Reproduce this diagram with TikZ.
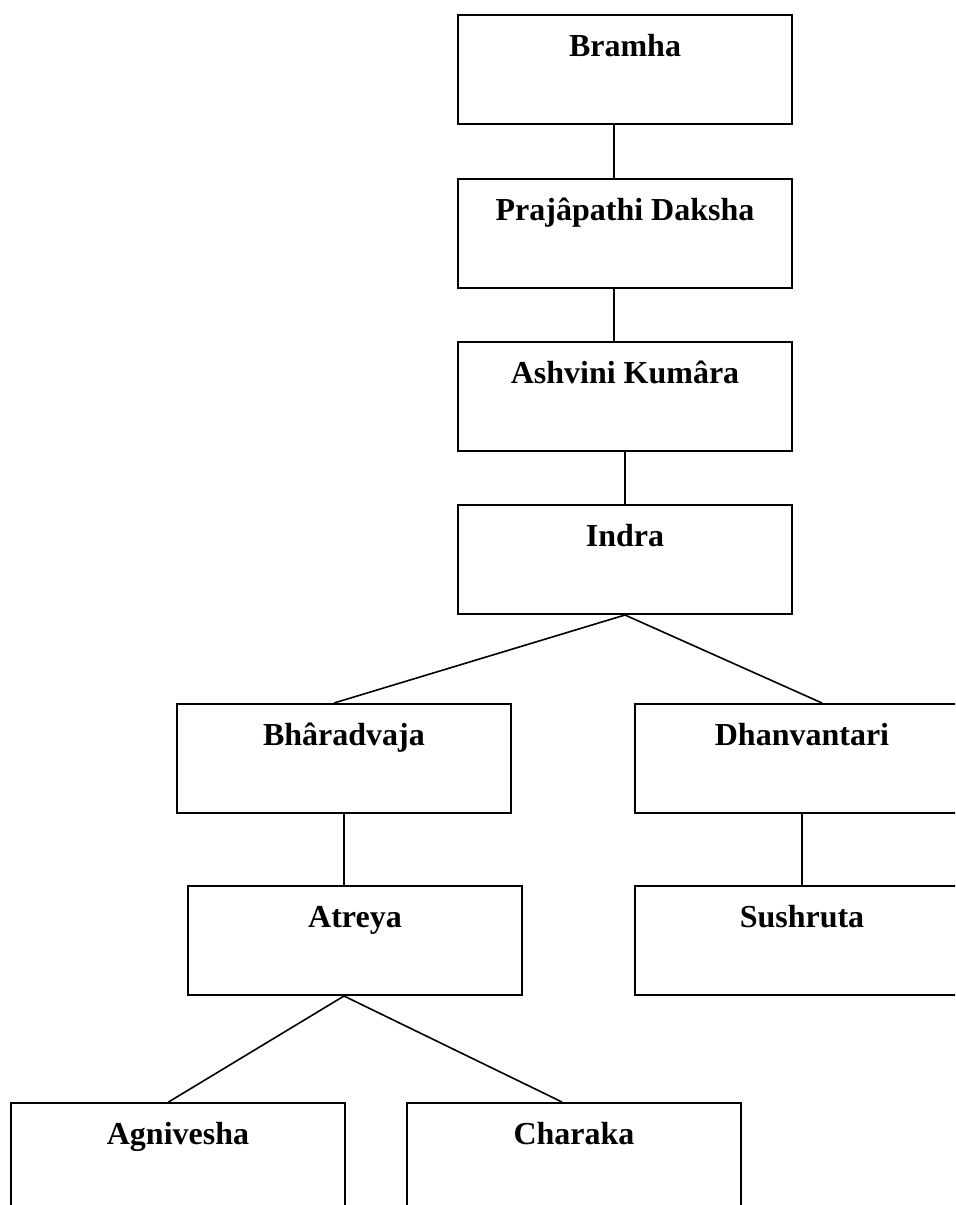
\documentclass[tikz,border=0pt]{standalone}
\usepackage{fontspec}
\setmainfont{Liberation Serif}
\tikzset{
  teacher/.style={draw, line width=1pt, anchor=north west, inner xsep=0pt, inner ysep=0pt,
    minimum width=167pt, text height=20.75pt, text depth=33.75pt,
    font=\fontsize{16}{19}\selectfont\bfseries},
  lineage/.style={line width=0.8pt}
}

\begin{document}
\begin{tikzpicture}[x=0.5pt,y=-0.5pt]
\clip (0,0) rectangle (955,1205);
\node[teacher] (bramha) at (457,14) {Bramha};
\node[teacher] (daksha) at (457,178) {Prajâpathi Daksha};
\node[teacher] (ashvini) at (457,341) {Ashvini Kumâra};
\node[teacher] (indra) at (457,504) {Indra};
\node[teacher] (bharadvaja) at (176,703) {Bhâradvaja};
\node[teacher] (dhanvantari) at (634,703) {Dhanvantari};
\node[teacher] (atreya) at (187,885) {Atreya};
\node[teacher] (sushruta) at (634,885) {Sushruta};
\node[teacher] (agnivesha) at (10,1102) {Agnivesha};
\node[teacher] (charaka) at (406,1102) {Charaka};
\draw[lineage] ([xshift=-5.5pt]bramha.south) -- ([xshift=-5.5pt]daksha.north);
\draw[lineage] ([xshift=-5.5pt]daksha.south) -- ([xshift=-5.5pt]ashvini.north);
\draw[lineage] (ashvini.south) -- (indra.north);
\draw[lineage] (indra.south) -- ([xshift=-5pt]bharadvaja.north);
\draw[lineage] (indra.south) -- ([xshift=10pt]dhanvantari.north);
\draw[lineage] (bharadvaja.south) -- (bharadvaja.south |- atreya.north);
\draw[lineage] (dhanvantari.south) -- (sushruta.north);
\draw[lineage] ([xshift=-5.5pt]atreya.south) -- ([xshift=-4.75pt]agnivesha.north);
\draw[lineage] ([xshift=-5.5pt]atreya.south) -- ([xshift=-6pt]charaka.north);
\end{tikzpicture}
\end{document}
